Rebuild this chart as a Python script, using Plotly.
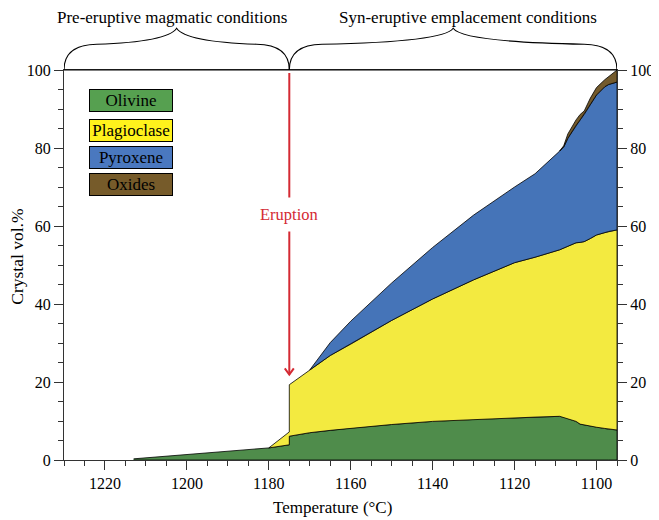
import plotly.graph_objects as go

# ---------------- data ----------------
temperature = [1213, 1180, 1175, 1175, 1170, 1165, 1160, 1150, 1140, 1130, 1120, 1115,
               1109, 1108, 1107, 1105, 1104, 1103, 1101.5, 1100, 1098, 1097, 1095]
# cumulative upper boundaries (crystal vol.%)
olivine_top = [0.3, 3.1, 3.9, 6.1, 7.0, 7.6, 8.2, 9.1, 9.9, 10.4, 10.8, 11.0,
               11.2, 11.0, 10.6, 9.9, 9.2, 9.0, 8.7, 8.4, 8.1, 7.9, 7.7]
plagioclase_top = [0.3, 3.1, 7.2, 19.3, 23.1, 26.8, 29.7, 35.8, 41.3, 46.2, 50.6, 52.0,
                   53.9, 54.3, 54.8, 55.7, 55.8, 56.0, 56.8, 57.7, 58.3, 58.6, 59.0]
pyroxene_top = [0.3, 3.1, 7.2, 19.3, 23.1, 30.1, 35.6, 45.4, 54.5, 62.8, 70.0, 73.4,
                79.2, 80.3, 82.5, 85.8, 87.2, 88.6, 91.2, 93.6, 95.7, 96.3, 96.9]
oxides_top = [0.3, 3.1, 7.2, 19.3, 23.1, 30.1, 35.6, 45.4, 54.5, 62.8, 70.0, 73.4,
              79.2, 80.6, 83.6, 87.2, 88.6, 89.5, 92.8, 95.5, 97.5, 98.4, 100.0]

phases = ["Olivine", "Plagioclase", "Pyroxene", "Oxides"]
phase_first_temperature = [1213, 1180, 1170, 1109]
plot_colors = ["#4f8c4b", "#f3ea40", "#4574b8", "#735a2c"]
legend_colors = ["#56a050", "#fff21c", "#4a78bf", "#765b2a"]

eruption_temperature = 1175
x_ticks = [1220, 1200, 1180, 1160, 1140, 1120, 1100]
y_ticks = [0, 20, 40, 60, 80, 100]
x_range = [1230, 1095]
y_range = [0, 100]

FONT = "Liberation Serif"

fig = go.Figure()

tops = [olivine_top, plagioclase_top, pyroxene_top, oxides_top]
bottoms = [[0.0] * len(temperature), olivine_top, plagioclase_top, pyroxene_top]
for name, t0, top, bot, col in zip(phases, phase_first_temperature, tops, bottoms, plot_colors):
    idx = [i for i, t in enumerate(temperature) if t <= t0]
    xs = [temperature[i] for i in idx]
    xs = xs + xs[::-1]
    ys = [top[i] for i in idx] + [bot[i] for i in idx][::-1]
    fig.add_trace(go.Scatter(x=xs, y=ys, fill="toself", fillcolor=col, mode="lines",
                             line=dict(color="black", width=0.8), name=name,
                             showlegend=False, hoverinfo="skip"))

# invisible trace for the right-hand axis
fig.add_trace(go.Scatter(x=[x_range[0]], y=[0], yaxis="y2", mode="markers",
                         marker=dict(opacity=0), showlegend=False, hoverinfo="skip"))

axis_common = dict(showgrid=False, zeroline=False, ticks="outside", ticklen=9, tickwidth=1,
                   tickcolor="#333", showline=True, linecolor="#333", linewidth=1,
                   automargin=False,
                   tickfont=dict(family=FONT, size=16, color="black"))

fig.update_layout(
    width=651, height=512,
    margin=dict(l=56, r=42, t=62, b=60),
    paper_bgcolor="white", plot_bgcolor="white",
    font=dict(family=FONT, color="black"),
    xaxis=dict(range=x_range, tickvals=x_ticks, mirror=True,
               minor=dict(dtick=5, tick0=1095, ticks="outside", ticklen=5, tickcolor="#333"),
               **axis_common),
    yaxis=dict(range=y_range, tickvals=y_ticks,
               minor=dict(dtick=5, ticks="outside", ticklen=5, tickcolor="#333"),
               **axis_common),
    yaxis2=dict(range=y_range, tickvals=y_ticks, overlaying="y", side="right",
                minor=dict(dtick=5, ticks="outside", ticklen=5, tickcolor="#333"),
                **axis_common),
)

# top frame line (black)
fig.add_shape(type="line", xref="paper", yref="paper", x0=0, x1=1, y0=1, y1=1,
              line=dict(color="black", width=1.2))


# curly braces
def brace(xa, xb, apex):
    s = 1 if xb > xa else -1
    lvl, top = 1.066, 1.107
    p = f"M {xa},1.0 Q {xa},1.065 {xa + s*8},{lvl} Q {apex - s*2.2},1.072 {apex},{top} "
    p += f"Q {apex + s*2.2},1.072 {xb - s*8},{lvl} Q {xb},1.065 {xb},1.0"
    return p


for xa, xb in [(x_range[0], eruption_temperature), (eruption_temperature, x_range[1])]:
    fig.add_shape(type="path", xref="x", yref="paper", path=brace(xa, xb, (xa + xb) / 2),
                  line=dict(color="black", width=1.1))

fig.add_annotation(text="Pre-eruptive magmatic conditions", xref="paper", yref="paper",
                   x=0.196, y=1.135, xanchor="center", yanchor="middle",
                   showarrow=False, font=dict(family=FONT, size=17))
fig.add_annotation(text="Syn-eruptive emplacement conditions", xref="paper", yref="paper",
                   x=0.73, y=1.135, xanchor="center", yanchor="middle",
                   showarrow=False, font=dict(family=FONT, size=17))

# eruption arrow
RED = "#d42a33"
fig.add_shape(type="line", xref="x", yref="y", x0=eruption_temperature, x1=eruption_temperature,
              y0=99.2, y1=21.9, line=dict(color=RED, width=2))
fig.add_shape(type="path", xref="x", yref="y",
              path=f"M {eruption_temperature + 1.1},23.5 L {eruption_temperature},21.9 "
                   f"L {eruption_temperature - 1.1},23.5",
              line=dict(color=RED, width=2))
fig.add_annotation(text="Eruption", x=eruption_temperature, y=63, xref="x", yref="y",
                   xanchor="center", yanchor="middle",
                   showarrow=False, bgcolor="white", borderpad=7,
                   font=dict(family=FONT, size=16.5, color=RED))

# legend boxes
legend_y = [0.921, 0.846, 0.776, 0.707]
for name, col, ly in zip(phases, legend_colors, legend_y):
    fig.add_annotation(text=name, xref="paper", yref="paper", x=0.121, y=ly,
                       xanchor="center", yanchor="middle",
                       showarrow=False, width=82, height=21, bgcolor=col,
                       bordercolor="black", borderwidth=1, borderpad=0,
                       font=dict(family=FONT, size=17, color="black"))

# axis titles
fig.add_annotation(text="Temperature (°C)", xref="paper", yref="paper", x=0.485, y=-0.122,
                   xanchor="center", yanchor="middle",
                   showarrow=False, font=dict(family=FONT, size=17))
fig.add_annotation(text="Crystal vol.%", xref="paper", yref="paper", x=-0.0845, y=0.522,
                   xanchor="center", yanchor="middle",
                   textangle=-90, showarrow=False, font=dict(family=FONT, size=17.5))

fig.write_html("out.html")
